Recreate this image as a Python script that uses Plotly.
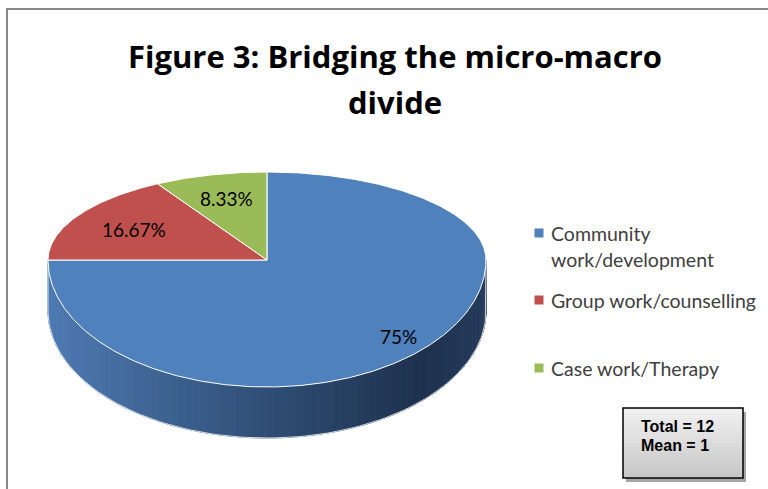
import numpy as np
import plotly.graph_objects as go

# ---------------- data ----------------
categories = ["Community work/development", "Group work/counselling", "Case work/Therapy"]
legend_lines = [["Community", "work/development"], ["Group work/counselling"], ["Case work/Therapy"]]
counts = [9, 2, 1]
colors = ["#4F81BD", "#C0504D", "#9BBB59"]
title_lines = ["Figure 3: Bridging the micro-macro", "divide"]
summary_lines = ["Total = 12", "Mean = 1"]

# ---------------- geometry / style (pixel space) ----------------
W, H = 768, 489
CX, CY = 267, 260
RX, RY_TOP, RY_BOT = 219, 88, 127
DEPTH = 51
LABEL_R = [0.85, 0.70, 0.72]


def pt(t_deg, f=1.0, dy=0.0):
    t = np.radians(t_deg)
    s, c = np.sin(t), np.cos(t)
    ry = np.where(c >= 0, RY_TOP, RY_BOT)
    return CX + RX * f * s, CY - ry * f * c + dy


def lerp_color(u):
    stops = [(0.0, (78, 122, 178)), (0.5, (47, 78, 117)), (0.85, (30, 49, 78)), (1.0, (38, 60, 92))]
    for (u0, c0), (u1, c1) in zip(stops[:-1], stops[1:]):
        if u <= u1:
            k = (u - u0) / (u1 - u0) if u1 > u0 else 0
            return "rgb(%d,%d,%d)" % tuple(int(round(a + (b - a) * k)) for a, b in zip(c0, c1))
    return "rgb(%d,%d,%d)" % stops[-1][1]


fig = go.Figure()

# side of the 3-D pie (front half, all in the first slice)
N = 90
ts = np.linspace(90, 270, N + 1)
for i in range(N):
    seg = np.linspace(ts[i], ts[i + 1], 3)
    xt, yt = pt(seg)
    xb, yb = pt(seg[::-1], dy=DEPTH)
    xs = np.concatenate([xt, xb, xt[:1]])
    ys = np.concatenate([yt, yb, yt[:1]])
    u = (xt.mean() - (CX - RX)) / (2 * RX)
    col = lerp_color(u)
    fig.add_trace(go.Scatter(x=xs, y=ys, mode="lines", fill="toself", fillcolor=col,
                             line=dict(color=col, width=1), hoverinfo="skip", showlegend=False))

# side outline
seg = np.linspace(90, 270, 120)
xb, yb = pt(seg, dy=DEPTH)
xl, yl = pt(np.array([270.0]))
xr, yr = pt(np.array([90.0]))
fig.add_trace(go.Scatter(x=np.concatenate([xr, xb, xl]), y=np.concatenate([yr, yb, yl]),
                         mode="lines", line=dict(color="rgba(255,255,255,0.8)", width=1),
                         hoverinfo="skip", showlegend=False))

# top face slices
total = sum(counts)
start = 0.0
mids = []
for cnt, col in zip(counts, colors):
    span = 360.0 * cnt / total
    arc = np.linspace(start, start + span, max(int(span), 2) * 2)
    ax_, ay_ = pt(arc)
    xs = np.concatenate([[CX], ax_, [CX]])
    ys = np.concatenate([[CY], ay_, [CY]])
    fig.add_trace(go.Scatter(x=xs, y=ys, mode="lines", fill="toself", fillcolor=col,
                             line=dict(color="white", width=1), hoverinfo="skip", showlegend=False))
    mids.append(start + span / 2)
    start += span

# data labels
annotations = []
for cnt, m, f in zip(counts, mids, LABEL_R):
    pct = 100.0 * cnt / total
    txt = ("%.2f" % pct).rstrip("0").rstrip(".") + "%"
    lx, ly = pt(np.array([m]), f=f)
    annotations.append(dict(x=float(lx[0]), y=float(ly[0]), text=txt, showarrow=False,
                            font=dict(family="Lato", size=19, color="black"),
                            xanchor="center", yanchor="middle"))

# title
for i, line in enumerate(title_lines):
    annotations.append(dict(x=395, y=56 + 46 * i, text="<b>%s</b>" % line, showarrow=False,
                            font=dict(family="Open Sans", size=31, color="black"),
                            xanchor="center", yanchor="middle"))

# legend
legend_y = [233, 300, 368]
fig.add_trace(go.Scatter(x=[539] * 3, y=legend_y, mode="markers",
                         marker=dict(symbol="square", size=9, color=colors, line=dict(width=0)),
                         hoverinfo="skip", showlegend=False))
for y0, lines in zip(legend_y, legend_lines):
    for j, line in enumerate(lines):
        annotations.append(dict(x=549, y=y0 + 26 * j, text=line, showarrow=False,
                                font=dict(family="Lato", size=19.5, color="#404040"),
                                xanchor="left", yanchor="middle"))

# summary box text
for i, line in enumerate(summary_lines):
    annotations.append(dict(x=639, y=426 + 19 * i, text="<b>%s</b>" % line, showarrow=False,
                            font=dict(family="Liberation Sans Narrow, Arial", size=16, color="black"),
                            xanchor="left", yanchor="middle"))

shapes = []
# outer chart frame
shapes.append(dict(type="rect", xref="x", yref="y", x0=7, y0=9, x1=790, y1=510,
                   line=dict(color="#8a8a8a", width=2), fillcolor="rgba(0,0,0,0)", layer="below"))
# summary box shadow + gradient + border
bx0, by0, bx1, by1 = 623, 408, 743, 478
shapes.append(dict(type="rect", xref="x", yref="y", x0=bx0 + 3, y0=by0 + 4, x1=bx1 + 3, y1=by1 + 4,
                   line=dict(width=0), fillcolor="rgba(0,0,0,0.35)", layer="above"))
NS = 14
for i in range(NS):
    g = int(round(240 - (240 - 200) * i / (NS - 1)))
    shapes.append(dict(type="rect", xref="x", yref="y", x0=bx0, x1=bx1,
                       y0=by0 + (by1 - by0) * i / NS, y1=by0 + (by1 - by0) * (i + 1) / NS + 0.5,
                       line=dict(width=0), fillcolor="rgb(%d,%d,%d)" % (g, g, g), layer="above"))
shapes.append(dict(type="rect", xref="x", yref="y", x0=bx0, y0=by0, x1=bx1, y1=by1,
                   line=dict(color="black", width=1.5), fillcolor="rgba(0,0,0,0)", layer="above"))

fig.update_layout(
    width=W, height=H, margin=dict(l=0, r=0, t=0, b=0),
    paper_bgcolor="white", plot_bgcolor="white",
    xaxis=dict(range=[0, W], visible=False, fixedrange=True),
    yaxis=dict(range=[H, 0], visible=False, fixedrange=True),
    annotations=annotations, shapes=shapes, showlegend=False,
)

fig.write_html("out.html")
